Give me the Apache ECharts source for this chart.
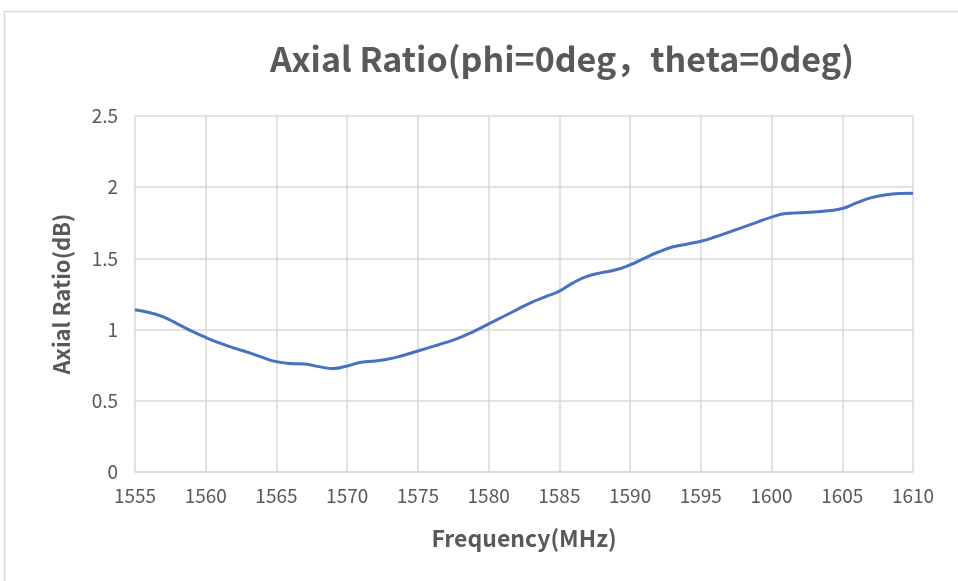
<!DOCTYPE html>
<html>
<head>
<meta charset="utf-8">
<script src="https://cdn.jsdelivr.net/npm/echarts@6/dist/echarts.min.js"></script>
<style>
html, body { margin: 0; padding: 0; background: #fff; }
#chart { width: 958px; height: 581px; }
</style>
</head>
<body>
<div id="chart"></div>
<script>
// frequency (MHz) and axial ratio (dB)
var freq = [1555, 1556, 1557, 1558, 1559, 1560, 1561, 1562, 1563, 1564,
	1565, 1566, 1567, 1568, 1569, 1570, 1571, 1572, 1573, 1574,
	1575, 1576, 1577, 1578, 1579, 1580, 1581, 1582, 1583, 1584,
	1585, 1586, 1587, 1588, 1589, 1590, 1591, 1592, 1593, 1594,
	1595, 1596, 1597, 1598, 1599, 1600, 1601, 1602, 1603, 1604,
	1605, 1606, 1607, 1608, 1609, 1610];
var axialRatio = [1.14, 1.12, 1.09, 1.04, 0.99, 0.945, 0.905, 0.87, 0.84, 0.805,
	0.775, 0.762, 0.758, 0.74, 0.727, 0.745, 0.77, 0.78, 0.795, 0.82,
	0.85, 0.88, 0.91, 0.945, 0.99, 1.04, 1.09, 1.14, 1.19, 1.23,
	1.27, 1.33, 1.375, 1.40, 1.42, 1.455, 1.50, 1.545, 1.58, 1.60,
	1.62, 1.65, 1.685, 1.72, 1.755, 1.79, 1.815, 1.82, 1.825, 1.835,
	1.85, 1.89, 1.925, 1.945, 1.955, 1.957];

var chart = echarts.init(document.getElementById('chart'));
var textColor = '#595959';
var font = '"Noto Sans CJK SC", "Noto Sans", sans-serif';

var points = [];
for (var i = 0; i < freq.length; i++) {
	points.push([freq[i], axialRatio[i]]);
}

var option = {
	animation: false,
	backgroundColor: '#fff',
	title: {
		text: 'Axial Ratio(phi=0deg，theta=0deg)',
		left: 557,
		top: 37,
		textAlign: 'center',
		textStyle: {
			color: textColor,
			fontSize: 34,
			fontWeight: 'bold',
			fontFamily: font
		}
	},
	graphic: [{
		type: 'rect',
		shape: { x: 4.5, y: 11.5, width: 1000, height: 600 },
		style: { fill: 'none', stroke: '#d9d9d9', lineWidth: 1.5 },
		silent: true
	}],
	grid: {
		left: 135,
		right: 45,
		top: 116,
		bottom: 109
	},
	xAxis: {
		type: 'value',
		min: 1555,
		max: 1610,
		interval: 5,
		name: 'Frequency(MHz)',
		nameLocation: 'middle',
		nameGap: 55,
		nameTextStyle: { color: textColor, fontSize: 23, fontWeight: 'bold', fontFamily: font },
		axisLine: { show: true, lineStyle: { color: '#d9d9d9', width: 1.5 } },
		axisTick: { show: false },
		axisLabel: {
			color: textColor, fontSize: 19, margin: 14, fontFamily: font,
			formatter: function (v) { return String(v); }
		},
		splitLine: { show: true, lineStyle: { color: '#d9d9d9', width: 1.5 } }
	},
	yAxis: {
		type: 'value',
		min: 0,
		max: 2.5,
		interval: 0.5,
		name: 'Axial Ratio(dB)',
		nameLocation: 'middle',
		nameGap: 62,
		nameTextStyle: { color: textColor, fontSize: 22, fontWeight: 'bold', fontFamily: font },
		axisLine: { show: false },
		axisTick: { show: false },
		axisLabel: { color: textColor, fontSize: 19, margin: 17, fontFamily: font },
		splitLine: { show: true, lineStyle: { color: '#d9d9d9', width: 1.5 } }
	},
	series: [{
		type: 'line',
		data: points,
		smooth: true,
		showSymbol: false,
		lineStyle: { color: '#4472c4', width: 3 }
	}]
};
chart.setOption(option);
</script>
</body>
</html>
